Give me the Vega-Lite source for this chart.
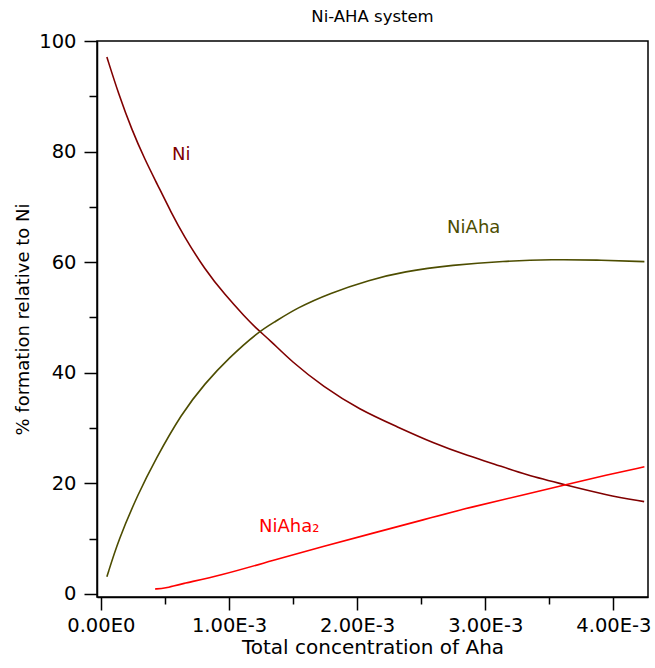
{
  "$schema": "https://vega.github.io/schema/vega-lite/v6.json",
  "width": 551,
  "height": 556,
  "autosize": {"type": "none"},
  "padding": {"left": 97, "top": 41, "right": 7, "bottom": 71},
  "background": "white",
  "config": {
    "font": "DejaVu Sans",
    "view": {"stroke": "black", "strokeWidth": 1.5}
  },
  "title": {"text": "Ni-AHA system", "fontSize": 16.5, "fontWeight": "normal", "font": "DejaVu Sans", "color": "black", "offset": 6},
  "datasets": {
    "curves": [
      {"series": "Ni", "x": 0.000047, "y": 97.1},
      {"series": "Ni", "x": 0.000137, "y": 90.5},
      {"series": "Ni", "x": 0.000242, "y": 83.9},
      {"series": "Ni", "x": 0.000345, "y": 78.5},
      {"series": "Ni", "x": 0.000436, "y": 74.3},
      {"series": "Ni", "x": 0.000553, "y": 68.8},
      {"series": "Ni", "x": 0.000644, "y": 64.9},
      {"series": "Ni", "x": 0.000813, "y": 58.6},
      {"series": "Ni", "x": 0.000969, "y": 54.1},
      {"series": "Ni", "x": 0.001125, "y": 50.1},
      {"series": "Ni", "x": 0.001228, "y": 47.7},
      {"series": "Ni", "x": 0.00132, "y": 45.9},
      {"series": "Ni", "x": 0.001489, "y": 42.0},
      {"series": "Ni", "x": 0.001735, "y": 37.5},
      {"series": "Ni", "x": 0.002021, "y": 33.3},
      {"series": "Ni", "x": 0.002307, "y": 30.3},
      {"series": "Ni", "x": 0.002592, "y": 27.3},
      {"series": "Ni", "x": 0.002878, "y": 24.9},
      {"series": "Ni", "x": 0.00306, "y": 23.6},
      {"series": "Ni", "x": 0.00332, "y": 21.5},
      {"series": "Ni", "x": 0.00363, "y": 19.7},
      {"series": "Ni", "x": 0.00394, "y": 17.9},
      {"series": "Ni", "x": 0.00424, "y": 16.7},
      {"series": "NiAha", "x": 0.000047, "y": 3.1},
      {"series": "NiAha", "x": 0.000137, "y": 9.8},
      {"series": "NiAha", "x": 0.000293, "y": 18.2},
      {"series": "NiAha", "x": 0.000423, "y": 24.2},
      {"series": "NiAha", "x": 0.000631, "y": 32.7},
      {"series": "NiAha", "x": 0.000813, "y": 38.1},
      {"series": "NiAha", "x": 0.000995, "y": 42.6},
      {"series": "NiAha", "x": 0.001228, "y": 47.4},
      {"series": "NiAha", "x": 0.001358, "y": 49.2},
      {"series": "NiAha", "x": 0.001528, "y": 51.7},
      {"series": "NiAha", "x": 0.001787, "y": 54.4},
      {"series": "NiAha", "x": 0.002099, "y": 56.8},
      {"series": "NiAha", "x": 0.002359, "y": 58.3},
      {"series": "NiAha", "x": 0.002748, "y": 59.5},
      {"series": "NiAha", "x": 0.003138, "y": 60.2},
      {"series": "NiAha", "x": 0.003528, "y": 60.5},
      {"series": "NiAha", "x": 0.003866, "y": 60.4},
      {"series": "NiAha", "x": 0.004242, "y": 60.1},
      {"series": "NiAha2", "x": 0.000423, "y": 0.9},
      {"series": "NiAha2", "x": 0.000501, "y": 1.0},
      {"series": "NiAha2", "x": 0.000618, "y": 1.8},
      {"series": "NiAha2", "x": 0.00093, "y": 3.3},
      {"series": "NiAha2", "x": 0.001345, "y": 6.1},
      {"series": "NiAha2", "x": 0.001735, "y": 8.6},
      {"series": "NiAha2", "x": 0.002125, "y": 11.0},
      {"series": "NiAha2", "x": 0.002514, "y": 13.4},
      {"series": "NiAha2", "x": 0.002904, "y": 15.8},
      {"series": "NiAha2", "x": 0.003294, "y": 17.9},
      {"series": "NiAha2", "x": 0.003632, "y": 19.8},
      {"series": "NiAha2", "x": 0.003944, "y": 21.5},
      {"series": "NiAha2", "x": 0.004242, "y": 23.0}
    ],
    "labels": [
      {"series": "Ni", "label": "Ni", "x": 0.000627, "y": 79.4},
      {"series": "NiAha", "label": "NiAha", "x": 0.00291, "y": 66.2},
      {"series": "NiAha2", "label": "NiAha₂", "x": 0.00147, "y": 12.1}
    ]
  },
  "encoding": {
    "x": {
      "field": "x", "type": "quantitative",
      "scale": {"domain": [-0.00003, 0.00427], "nice": false, "zero": false},
      "axis": {
        "title": "Total concentration of Aha",
        "values": [0, 0.0005, 0.001, 0.0015, 0.002, 0.0025, 0.003, 0.0035, 0.004],
        "labelExpr": "abs(datum.value*1000 - round(datum.value*1000)) < 0.01 ? (datum.value == 0 ? '0.00E0' : format(datum.value*1000, '.2f') + 'E-3') : ''",
        "tickSize": {"condition": {"test": "abs(datum.value*1000 - round(datum.value*1000)) < 0.01", "value": 13}, "value": 7},
        "grid": false,
        "domainColor": "black", "domainWidth": 1.5,
        "tickColor": "black", "tickWidth": 1.5,
        "labelFont": "DejaVu Sans", "labelFontSize": 19.5, "labelColor": "black",
        "labelPadding": 6, "labelFlush": false, "labelOverlap": false,
        "titleFont": "DejaVu Sans", "titleFontSize": 20, "titleFontWeight": "normal", "titleColor": "black",
        "titlePadding": 3
      }
    },
    "y": {
      "field": "y", "type": "quantitative",
      "scale": {"domain": [-0.55, 100], "nice": false, "zero": false},
      "axis": {
        "title": "% formation relative to Ni",
        "values": [0, 10, 20, 30, 40, 50, 60, 70, 80, 90, 100],
        "labelExpr": "datum.value % 20 == 0 ? datum.label : ''",
        "tickSize": {"condition": {"test": "datum.value % 20 == 0", "value": 13}, "value": 8},
        "grid": false,
        "domainColor": "black", "domainWidth": 1.5,
        "tickColor": "black", "tickWidth": 1.5,
        "labelFont": "DejaVu Sans", "labelFontSize": 19.5, "labelColor": "black",
        "labelPadding": 8, "labelFlush": false, "labelOverlap": false,
        "titleFont": "DejaVu Sans", "titleFontSize": 18, "titleFontWeight": "normal", "titleColor": "black",
        "titlePadding": 6
      }
    },
    "color": {
      "field": "series", "type": "nominal",
      "scale": {"domain": ["Ni", "NiAha", "NiAha2"], "range": ["#800000", "#4d4d00", "#ff0000"]},
      "legend": null
    }
  },
  "layer": [
    {
      "data": {"name": "curves"},
      "mark": {"type": "line", "strokeWidth": 1.6, "interpolate": "basis"},
      "encoding": {"order": {"field": "x", "type": "quantitative"}}
    },
    {
      "data": {"name": "labels"},
      "mark": {"type": "text", "fontSize": 18, "font": "DejaVu Sans", "align": "center", "baseline": "middle"},
      "encoding": {"text": {"field": "label"}}
    }
  ]
}
